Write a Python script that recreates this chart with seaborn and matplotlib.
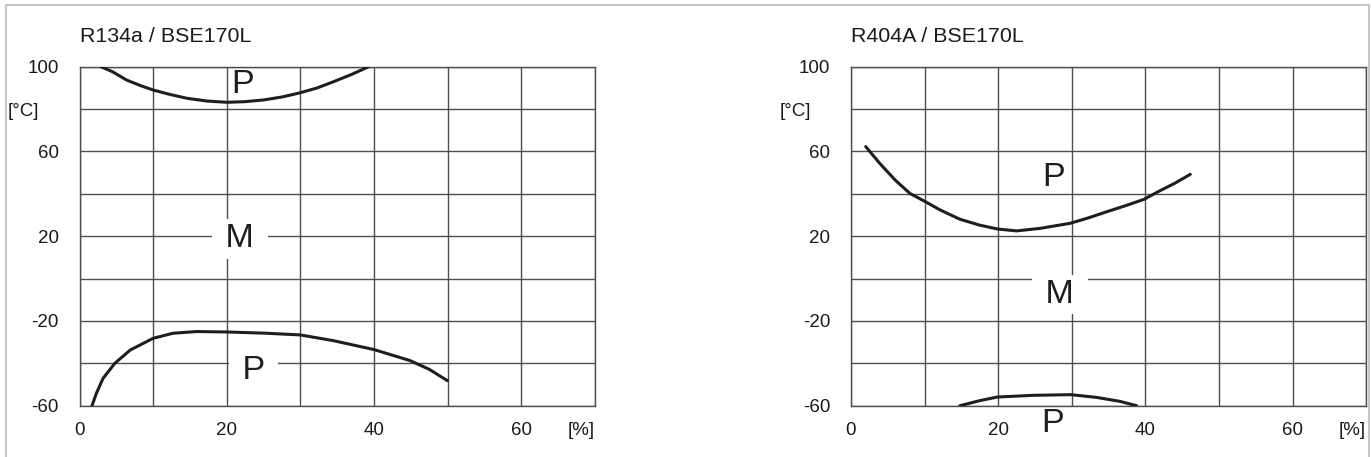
import matplotlib
matplotlib.use("Agg")
import matplotlib.pyplot as plt
from matplotlib.lines import Line2D
import seaborn as sns
import pandas as pd

# ---------------- data ----------------
titles = ["R134a / BSE170L", "R404A / BSE170L"]

r134a_upper_x = [2.9, 4.5, 6.4, 8.2, 10.0, 12.3, 14.6, 17.3, 20.0, 22.5, 25.0, 27.5, 30.0, 32.3, 34.5, 37.0, 39.3]
r134a_upper_y = [100, 97.6, 93.7, 91.2, 89.0, 86.9, 85.1, 83.8, 83.2, 83.5, 84.3, 85.7, 87.7, 90.0, 92.9, 96.4, 100]
r134a_lower_x = [1.7, 2.3, 3.2, 4.8, 6.9, 10.0, 12.7, 15.9, 20.0, 25.4, 30.0, 34.5, 40.0, 44.9, 47.5, 50.0]
r134a_lower_y = [-60, -54.1, -47.1, -40.0, -33.7, -28.2, -25.8, -25.0, -25.2, -25.8, -26.6, -29.3, -33.5, -38.7, -42.8, -48.2]

r404a_upper_x = [2.0, 3.9, 6.0, 8.0, 10.1, 12.1, 14.8, 17.5, 19.9, 22.5, 25.7, 29.8, 32.3, 34.8, 37.3, 39.8, 42.0, 44.0, 46.1]
r404a_upper_y = [62.3, 54.4, 46.5, 40.2, 36.3, 32.4, 28.0, 25.2, 23.4, 22.5, 23.7, 26.1, 28.7, 31.6, 34.4, 37.4, 41.5, 45.0, 49.2]
r404a_lower_x = [14.8, 17.5, 19.9, 24.8, 29.9, 33.4, 36.6, 38.8]
r404a_lower_y = [-60, -57.6, -55.9, -55.1, -54.8, -56.1, -58.0, -60]

# region labels (text, x, y)
r134a_regions = [("P", 22.2, 91.4), ("M", 21.8, 18.7), ("P", 23.6, -43.4)]
r404a_regions = [("P", 27.5, 47.7), ("M", 28.4, -7.5), ("P", 27.4, -68.6)]

x_ticks = [0, 20, 40, 60]
x_tick_labels = ["0", "20", "40", "60"]
y_ticks = [-60, -20, 20, 60, 100]
y_tick_labels = ["-60", "-20", "20", "60", "100"]
x_unit = "[%]"
y_unit = "[°C]"

# ---------------- style ----------------
sns.set_style("white")
plt.rcParams["font.family"] = ["Liberation Sans", "DejaVu Sans"]

GRID = "#4e4e4e"
CURVE = "#1e1e1e"

fig = plt.figure(figsize=(13.71, 4.57), dpi=100)
W, H = 1371, 457
ax_w, ax_h = 515.2 / W, 339 / H
bottom = (H - 405.7) / H
ax1 = fig.add_axes([79.5 / W, bottom, ax_w, ax_h])
ax2 = fig.add_axes([851 / W, bottom, ax_w, ax_h])

panels = [
    (ax1, titles[0], [(r134a_upper_x, r134a_upper_y), (r134a_lower_x, r134a_lower_y)], r134a_regions),
    (ax2, titles[1], [(r404a_upper_x, r404a_upper_y), (r404a_lower_x, r404a_lower_y)], r404a_regions),
]

for ax, title, curves, regions in panels:
    for cx, cy in curves:
        df = pd.DataFrame({"x": cx, "y": cy})
        sns.lineplot(data=df, x="x", y="y", ax=ax, color=CURVE, linewidth=2.2,
                     sort=False, estimator=None, zorder=4)
    ax.set_xlim(0, 70)
    ax.set_ylim(-60, 100)
    ax.set_xlabel("")
    ax.set_ylabel("")
    ax.set_xticks(x_ticks)
    ax.set_xticklabels(x_tick_labels)
    ax.set_yticks(y_ticks)
    ax.set_yticklabels(y_tick_labels)
    ax.set_xticks(range(0, 71, 10), minor=True)
    ax.set_yticks(range(-60, 101, 20), minor=True)
    ax.grid(True, which="both", color=GRID, linewidth=1.0)
    ax.set_axisbelow(True)
    ax.tick_params(which="both", length=0)
    ax.tick_params(axis="y", which="major", pad=14.8, labelsize=13.5, colors="#1a1a1a")
    ax.tick_params(axis="x", which="major", pad=11.5, labelsize=13.5, colors="#1a1a1a")
    for s in ax.spines.values():
        s.set_color(GRID)
        s.set_linewidth(1.0)
        s.set_visible(True)
    ax.set_facecolor("white")

    # units
    ax.text(1.0, -16 / 339, x_unit, transform=ax.transAxes, ha="right", va="top",
            fontsize=13.5, color="#1a1a1a")
    ax.text(-40 / 515.2, 80, y_unit, transform=ax.get_yaxis_transform(), ha="right",
            va="center_baseline", fontsize=13.5, color="#1a1a1a")

    # title
    ax.text(0, 1 + 25 / 339, title, transform=ax.transAxes, ha="left", va="baseline",
            fontsize=15.4, color="#1a1a1a")

    # region labels
    for lbl, lx, ly in regions:
        inside = -60 < ly < 100
        boxed = inside and (lbl == "M" or ly < -30)
        if boxed:
            ax.text(lx, ly, " " + lbl + " ", ha="center", va="center", fontsize=24.5,
                    color="#1e1e1e", zorder=3, clip_on=False,
                    bbox=dict(boxstyle="square,pad=0.12", fc="white", ec="none"))
        else:
            ax.text(lx, ly, lbl, ha="center", va="center", fontsize=24.5,
                    color="#1e1e1e", zorder=3, clip_on=False)

# outer light-grey frame (left, top, right)
fc = "#c6c6cc"
lw = 1.5
x0, x1, y1 = 6 / W, 1369 / W, 1 - 5 / H
fig.add_artist(Line2D([x0, x0], [0, y1], transform=fig.transFigure, color=fc, lw=lw))
fig.add_artist(Line2D([x0, x1], [y1, y1], transform=fig.transFigure, color=fc, lw=lw))
fig.add_artist(Line2D([x1, x1], [0, y1], transform=fig.transFigure, color=fc, lw=lw))

fig.savefig("out.png", dpi=100, facecolor="white")
